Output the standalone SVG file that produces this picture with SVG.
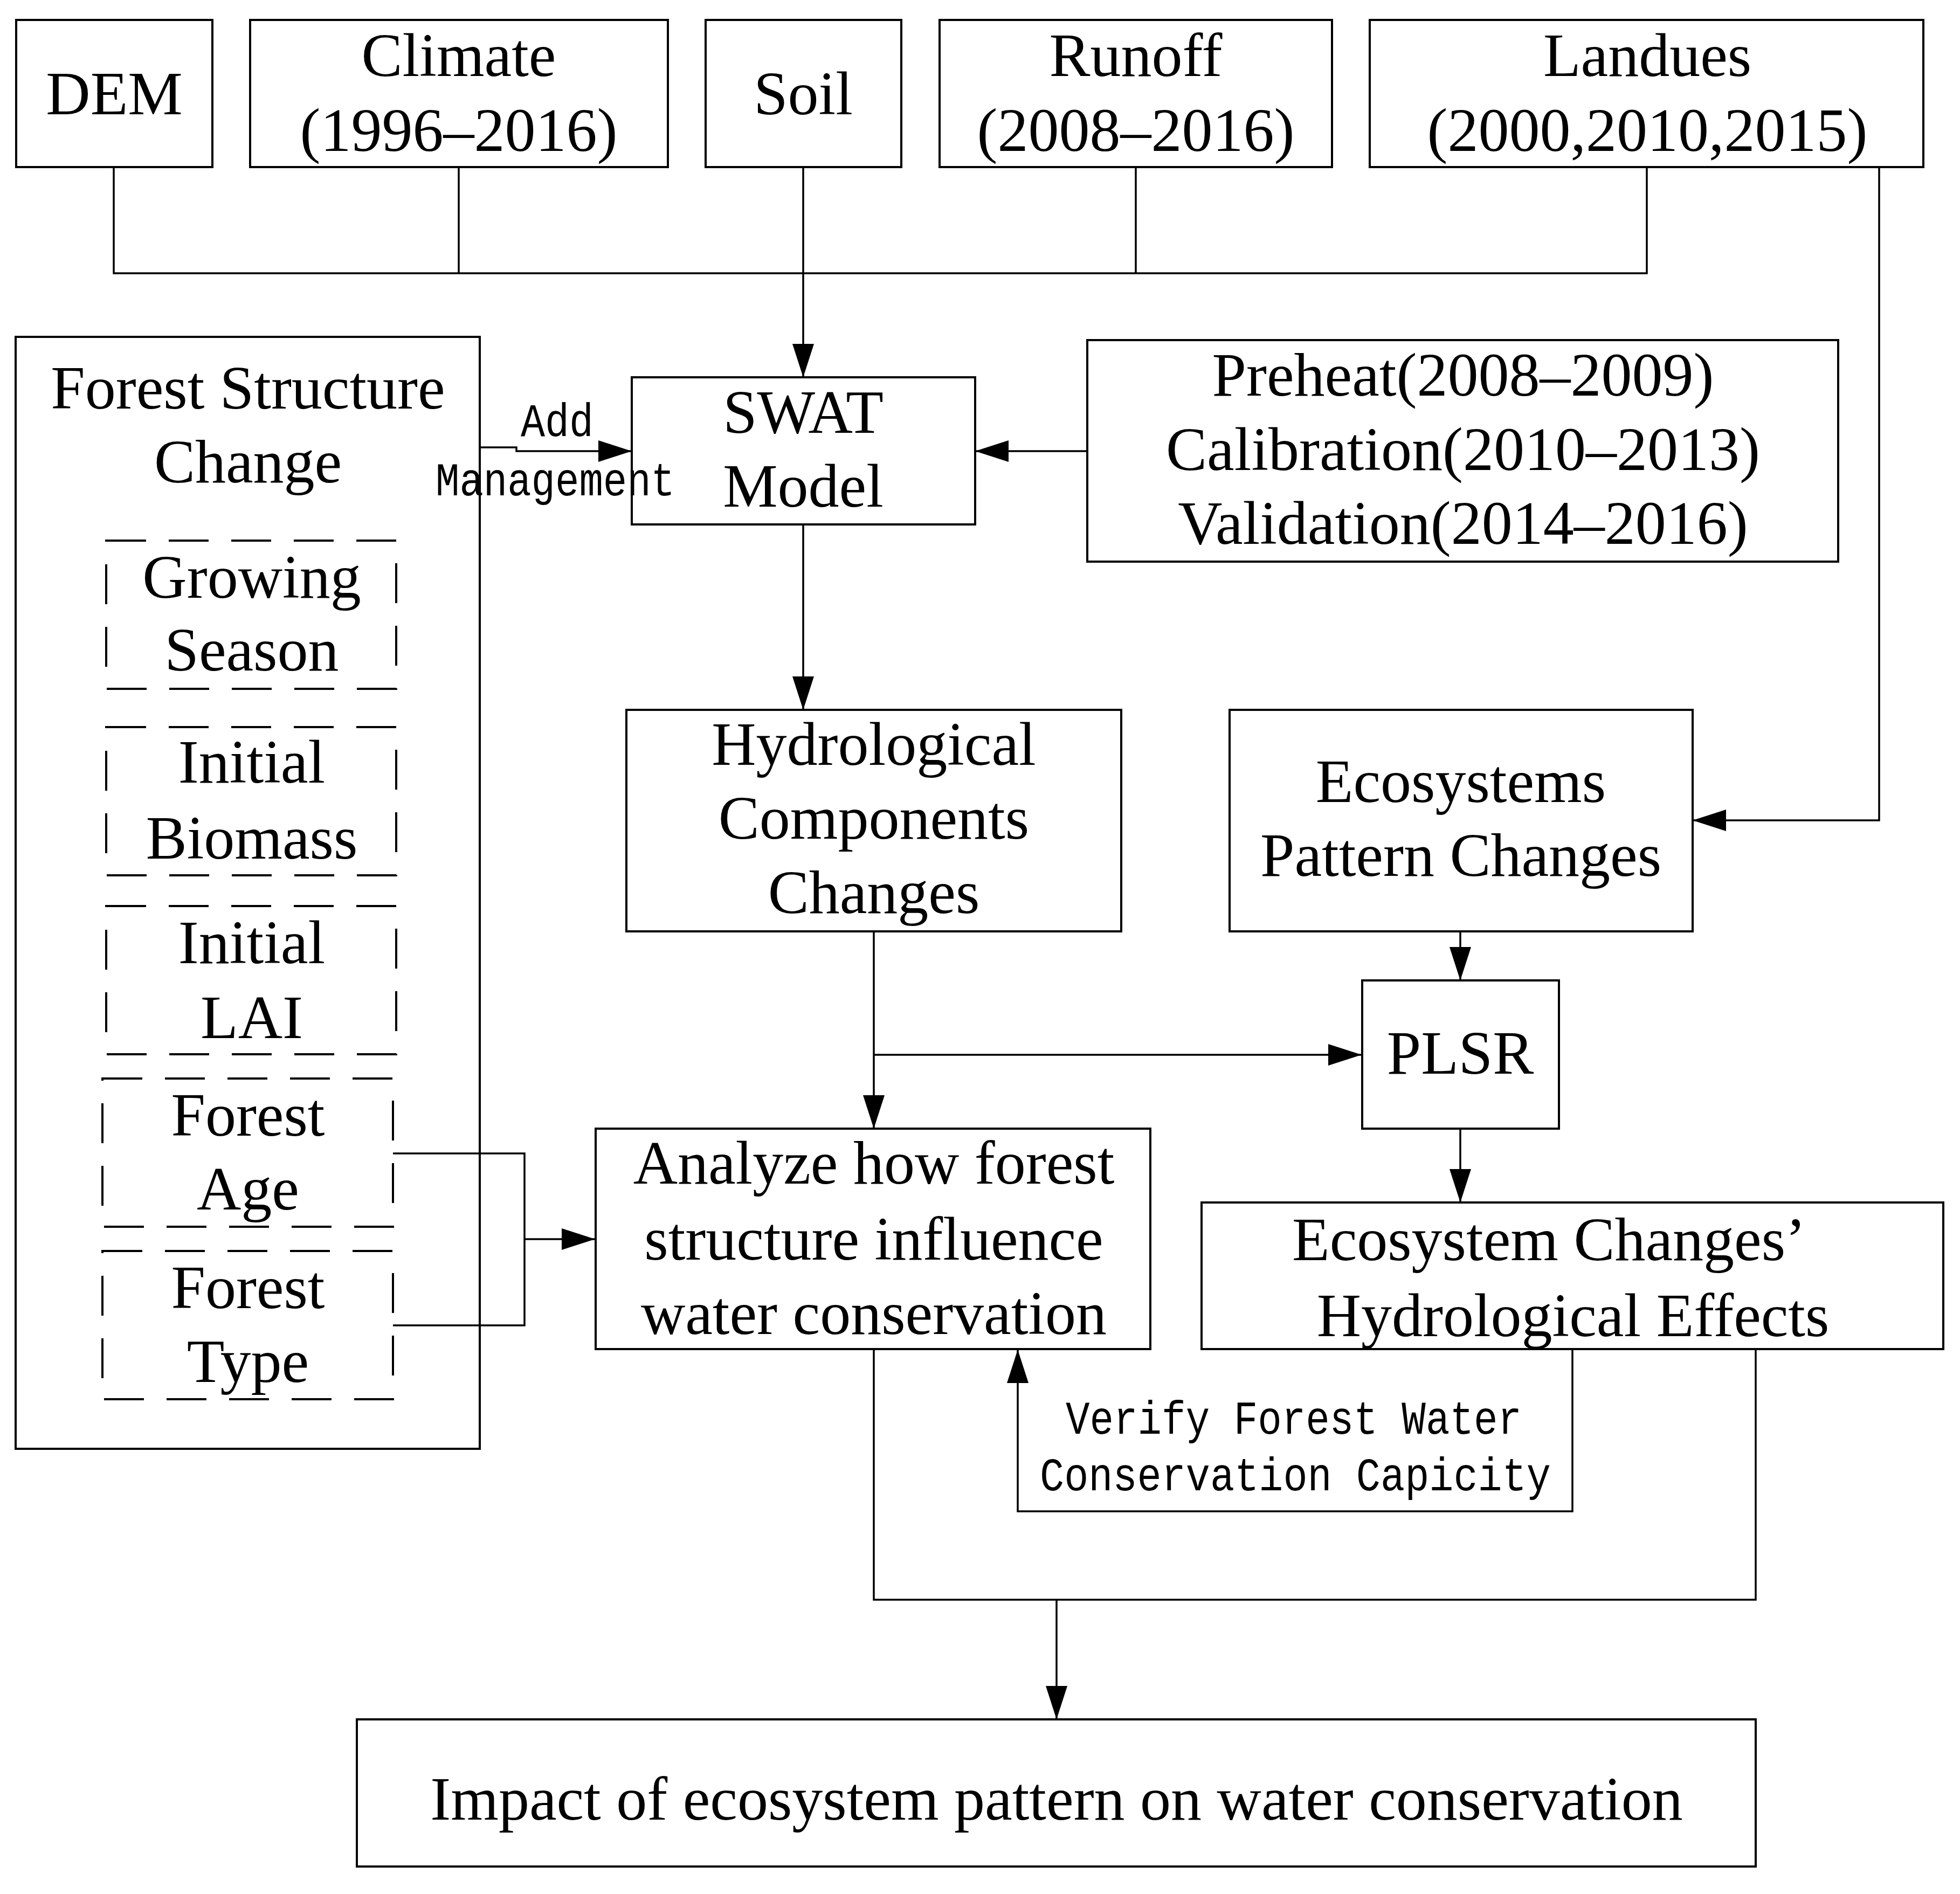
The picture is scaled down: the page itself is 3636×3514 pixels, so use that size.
<svg xmlns="http://www.w3.org/2000/svg" width="3636" height="3514" viewBox="0 0 3636 3514">
<style>
.box{fill:none;stroke:#000;stroke-width:4}
.dash{fill:none;stroke:#000;stroke-width:4;stroke-dasharray:74 42}
.ln{fill:none;stroke:#000;stroke-width:3.5}
.t{font-family:"Liberation Serif","Times New Roman",serif;font-size:114px;text-anchor:middle;fill:#000}
.m{font-family:"Liberation Mono","Courier New",monospace;font-size:88px;fill:#000}
</style>
<defs>
<marker id="ah" markerUnits="userSpaceOnUse" markerWidth="64" markerHeight="42" refX="62" refY="20" orient="auto">
<path d="M0,0 L62,20 L0,40 z" fill="#000"/>
</marker>
</defs>
<rect width="3636" height="3514" fill="#fff"/>

<g id="connectors">
<path class="ln" d="M211,310 V507 H3055 V310"/>
<path class="ln" d="M851,310 V507"/>
<path class="ln" d="M2107,310 V507"/>
<path class="ln" d="M1490,310 V700" marker-end="url(#ah)"/>
<path class="ln" d="M3486,310 V1522 H3140" marker-end="url(#ah)"/>
<path class="ln" d="M2017,837 H1809" marker-end="url(#ah)"/>
<path class="ln" d="M890,830 H958 V837 H1172" marker-end="url(#ah)"/>
<path class="ln" d="M1490,973 V1317" marker-end="url(#ah)"/>
<path class="ln" d="M1621,1728 V2094" marker-end="url(#ah)"/>
<path class="ln" d="M1621,1957 H2526" marker-end="url(#ah)"/>
<path class="ln" d="M2709,1728 V1819" marker-end="url(#ah)"/>
<path class="ln" d="M2709,2094 V2231" marker-end="url(#ah)"/>
<path class="ln" d="M729,2140 H973 V2459 H729"/>
<path class="ln" d="M973,2299 H1104" marker-end="url(#ah)"/>
<path class="ln" d="M2917,2504 V2804 H1888 V2504" marker-end="url(#ah)"/>
<path class="ln" d="M1621,2504 V2968 H3257 V2504"/>
<path class="ln" d="M1960,2968 V3190" marker-end="url(#ah)"/>
<text class="m" x="966" y="809" textLength="135" lengthAdjust="spacingAndGlyphs">Add</text>
<text class="m" x="808" y="919" textLength="444" lengthAdjust="spacingAndGlyphs">Management</text>
<text class="m" x="1977" y="2660" textLength="846" lengthAdjust="spacingAndGlyphs">Verify Forest Water</text>
<text class="m" x="1929" y="2765" textLength="948" lengthAdjust="spacingAndGlyphs">Conservation Capicity</text>
</g>

<g id="dem"><rect class="box" x="30" y="37" width="364" height="273"/><text class="t" x="212" y="212">DEM</text></g>
<g id="climate"><rect class="box" x="464" y="37" width="775" height="273"/><text class="t" x="851" y="141">Climate</text><text class="t" x="851" y="280">(1996–2016)</text></g>
<g id="soil"><rect class="box" x="1309" y="37" width="363" height="273"/><text class="t" x="1490" y="212">Soil</text></g>
<g id="runoff"><rect class="box" x="1743" y="37" width="728" height="273"/><text class="t" x="2107" y="141">Runoff</text><text class="t" x="2107" y="280">(2008–2016)</text></g>
<g id="landues"><rect class="box" x="2541" y="37" width="1027" height="273"/><text class="t" x="3056" y="141">Landues</text><text class="t" x="3056" y="280">(2000,2010,2015)</text></g>

<g id="forest-structure"><rect class="box" x="29" y="625" width="861" height="2063"/><text class="t" x="460" y="758">Forest Structure</text><text class="t" x="460" y="895">Change</text></g>
<g id="growing-season"><rect class="dash" x="197" y="1003" width="538" height="275"/><text class="t" x="467" y="1109">Growing</text><text class="t" x="467" y="1244">Season</text></g>
<g id="initial-biomass"><rect class="dash" x="197" y="1349" width="538" height="275"/><text class="t" x="467" y="1452">Initial</text><text class="t" x="467" y="1593">Biomass</text></g>
<g id="initial-lai"><rect class="dash" x="197" y="1681" width="538" height="275"/><text class="t" x="467" y="1787">Initial</text><text class="t" x="467" y="1926">LAI</text></g>
<g id="forest-age"><rect class="dash" x="190" y="2001" width="539" height="275"/><text class="t" x="460" y="2107">Forest</text><text class="t" x="460" y="2244">Age</text></g>
<g id="forest-type"><rect class="dash" x="190" y="2321" width="539" height="275"/><text class="t" x="460" y="2427">Forest</text><text class="t" x="460" y="2564">Type</text></g>

<g id="swat"><rect class="box" x="1172" y="700" width="637" height="273"/><text class="t" x="1490" y="803">SWAT</text><text class="t" x="1490" y="940">Model</text></g>
<g id="preheat"><rect class="box" x="2017" y="631" width="1393" height="411"/><text class="t" x="2714" y="734">Preheat(2008–2009)</text><text class="t" x="2714" y="872">Calibration(2010–2013)</text><text class="t" x="2714" y="1009">Validation(2014–2016)</text></g>
<g id="hydro"><rect class="box" x="1162" y="1317" width="918" height="411"/><text class="t" x="1621" y="1419">Hydrological</text><text class="t" x="1621" y="1556">Components</text><text class="t" x="1621" y="1694">Changes</text></g>
<g id="ecosystems"><rect class="box" x="2281" y="1317" width="859" height="411"/><text class="t" x="2710" y="1488">Ecosystems</text><text class="t" x="2710" y="1625">Pattern Changes</text></g>
<g id="plsr"><rect class="box" x="2527" y="1819" width="365" height="275"/><text class="t" x="2709" y="1992">PLSR</text></g>
<g id="analyze"><rect class="box" x="1105" y="2094" width="1029" height="409"/><text class="t" x="1621" y="2196">Analyze how forest</text><text class="t" x="1621" y="2337">structure influence</text><text class="t" x="1621" y="2475">water conservation</text></g>
<g id="eco-changes"><rect class="box" x="2229" y="2231" width="1376" height="272"/><text class="t" x="2397" y="2338" style="text-anchor:start">Ecosystem Changes’</text><text class="t" x="2918" y="2479">Hydrological Effects</text></g>
<g id="impact"><rect class="box" x="662" y="3190" width="2595" height="273"/><text class="t" x="1960" y="3376">Impact of ecosystem pattern on water conservation</text></g>
</svg>
